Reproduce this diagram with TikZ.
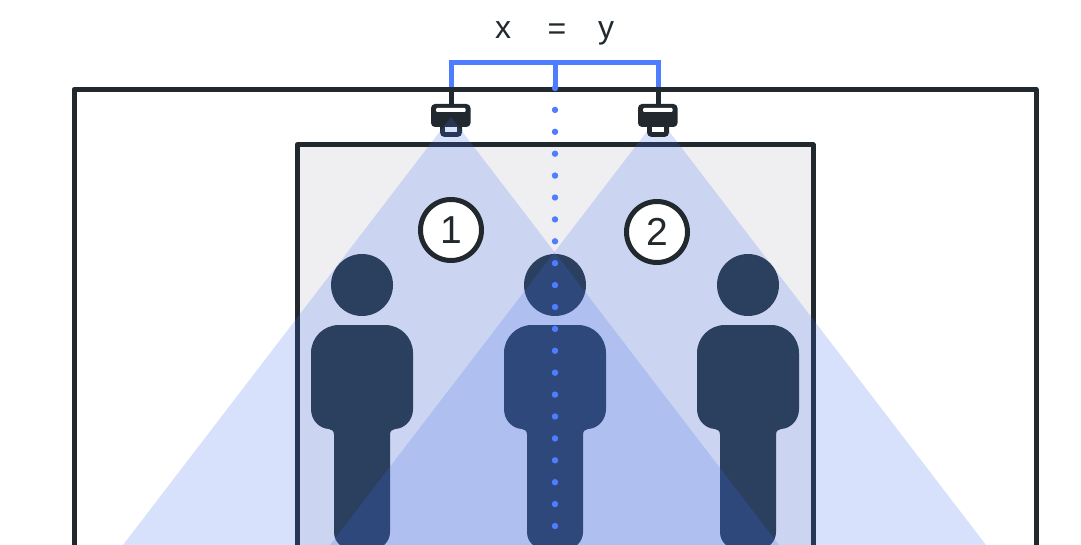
\documentclass[tikz,border=0pt]{standalone}
\usepackage{fontspec}
\setmainfont{Liberation Sans}
\definecolor{ink}{HTML}{22292E}
\definecolor{brand}{HTML}{4F7DFF}
\definecolor{roomfill}{HTML}{EFEFF2}
\definecolor{figcol}{HTML}{27343A}
\definecolor{beamcol}{HTML}{3F6CF0}
\tikzset{
  wall/.style={draw=ink,line width=5pt,line join=round,line cap=round},
  link/.style={draw=brand,line width=5pt,line join=miter},
  beam/.style={fill=beamcol,fill opacity=.2,draw=none},
  figure part/.style={fill=figcol,draw=none},
  badge/.style={circle,draw=ink,line width=5pt,fill=white,minimum size=61pt,inner sep=0pt,font=\fontsize{39}{39}\selectfont,text=ink},
  formula/.style={font=\fontsize{32}{32}\selectfont,text=ink,inner sep=0pt},
  dotmark/.style={circle,fill=brand,draw=none,minimum size=6.4pt,inner sep=0pt},
  pics/person/.style={code={
    \fill[figure part] (0,285) circle[radius=31];
    \fill[figure part] (-51,353)
      .. controls (-51,337.5) and (-38.5,325) .. (-23,325) -- (23,325)
      .. controls (38.5,325) and (51,337.5) .. (51,353) -- (51,409)
      .. controls (51,420) and (43,428.5) .. (33,429)
      .. controls (30,429.3) and (28,431) .. (28,435) -- (28,532)
      .. controls (28,542) and (20,549) .. (11,549) -- (-11,549)
      .. controls (-20,549) and (-28,542) .. (-28,532) -- (-28,435)
      .. controls (-28,431) and (-30,429.3) .. (-33,429)
      .. controls (-43,428.5) and (-51,420) .. (-51,409) -- cycle;
  }},
  pics/camera/.style={code={
    \fill[ink] (-2.5,88) rectangle (2.5,105);
    \fill[ink,rounded corners=4] (-20,104) rectangle (19.5,127);
    \fill[white,rounded corners=1] (-15,108) rectangle (14.5,112);
    \fill[ink,rounded corners=4.5] (-11,120) rectangle (11,137);
    \fill[white] (-6,127) rectangle (6,132);
  }}
}
\begin{document}
\begin{tikzpicture}[x=1pt,y=-1pt]
\clip (0,0) rectangle (1081,545);
\fill[white] (0,0) rectangle (1081,545);
% walls
\coordinate (outerBL) at (74,560);
\coordinate (outerTL) at (74,89.5);
\coordinate (outerTR) at (1036,89.5);
\coordinate (outerBR) at (1036,560);
\draw[wall] (outerBL) -- (outerTL) -- (outerTR) -- (outerBR);
\coordinate (roomBL) at (297,560);
\coordinate (roomTL) at (297,145);
\coordinate (roomTR) at (813,145);
\coordinate (roomBR) at (813,560);
\fill[roomfill] (roomBL) -- (roomTL) -- (roomTR) -- (roomBR) -- cycle;
\draw[wall] (roomBL) -- (roomTL) -- (roomTR) -- (roomBR);
% people
\pic at (362,0) {person};
\pic at (555,0) {person};
\pic at (748,0) {person};
% camera 1 is under its beam, camera 2 above
\pic at (451,0) {camera};
\coordinate (apexA) at (451,117);
\coordinate (apexB) at (658,117);
\fill[beam] (apexB) -- (330,545) -- (986,545) -- cycle;
\fill[beam] (apexA) -- (123,545) -- (779,545) -- cycle;
\pic at (658,0) {camera};
% bracket
\coordinate (camA) at (451,87);
\coordinate (camB) at (658,87);
\coordinate (mid) at (555,87);
\coordinate (midTop) at (555,63);
\draw[link] (camA) |- (midTop) -| (camB);
\draw[link] (midTop) -- (mid);
% dots
\foreach \i in {0,...,20}{
  \node[dotmark] (d\i) at (555,{88+21.9*\i}) {};
}
% badges
\node[badge] (one) at (451,230) {1};
\node[badge] (two) at (657,232) {2};
% formula
\node[formula] (fx) at (503,30) {x};
\node[formula] (feq) at (557,31.5) {=};
\node[formula] (fy) at (606,33) {y};
\end{tikzpicture}
\end{document}
